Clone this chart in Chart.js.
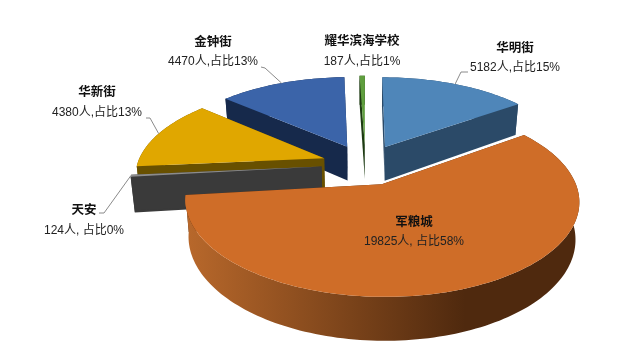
<!doctype html>
<html>

<head>
	<title>3D exploded pie</title>
	<script src="https://cdn.jsdelivr.net/npm/chart.js@4/dist/chart.umd.min.js"></script>
	<style>
		html, body { margin: 0; padding: 0; background: #fff; }
		canvas { display: block; }
	</style>
</head>

<body>
	<canvas id="chart" width="640" height="355"></canvas>
	<script>
		var categories = ['华明街', '军粮城', '天安', '华新街', '金钟街', '耀华滨海学校'];
		var people = [5182, 19825, 124, 4380, 4470, 187];
		var valueLabels = ['5182人,占比15%', '19825人, 占比58%', '124人, 占比0%', '4380人,占比13%', '4470人,占比13%', '187人,占比1%'];

		var topColors = ['#4f86b9', '#cf6d28', '#8c8c8c', '#e0a700', '#3b64a9', '#5f9e3e'];
		var wallColors = ['#2b4a68', '#4f290e', '#3a3a3a', '#685000', '#16294b', '#1d3a12'];
		var wallLeftColors = ['#2b4a68', '#b8682b', '#3a3a3a', '#685000', '#16294b', '#1d3a12'];

		// back to front
		var paintOrder = [0, 4, 5, 3, 2, 1];

		// name/value text centres, and where the leader line leaves the text (null = no leader)
		var labelSpots = [
			{ x: 515, nameY: 47, valueY: 68, leader: [468, 72, 461, 72] },
			{ x: 414, nameY: 221, valueY: 242, leader: null },
			{ x: 84, nameY: 209, valueY: 231, leader: [99, 213, 104, 213] },
			{ x: 97, nameY: 91, valueY: 113, leader: [146, 118, 150, 118] },
			{ x: 213, nameY: 41, valueY: 62, leader: [261, 67, 265, 68] },
			{ x: 362, nameY: 40, valueY: 62, leader: null }
		];

		// camera fitted to the picture
		var view = { cx: 365.5, cy: 164.5, radius: 187, tilt: 0.463, persp: 0.166, depth: 35, baseShrink: 0.982, explode: 0.235 };

		function project(x, z, depth) {
			var w = 1 - view.persp * z;
			var s = depth ? view.baseShrink : 1;
			return {
				x: view.cx + view.radius * s * x / w,
				y: view.cy + (view.radius * view.tilt * z + depth) / w
			};
		}

		function rimPoint(mid, angle, depth) {
			var ox = Math.cos(mid) * view.explode;
			var oz = Math.sin(mid) * view.explode;
			return project(ox + Math.cos(angle), oz + Math.sin(angle), depth);
		}

		function apexPoint(mid, depth) {
			return project(Math.cos(mid) * view.explode, Math.sin(mid) * view.explode, depth);
		}

		function tracePoly(ctx, pts) {
			ctx.beginPath();
			pts.forEach(function(p, i) {
				if (i === 0) {
					ctx.moveTo(p.x, p.y);
				} else {
					ctx.lineTo(p.x, p.y);
				}
			});
			ctx.closePath();
		}

		function rimPoints(mid, start, end, depth) {
			var pts = [];
			var n = Math.max(2, Math.ceil((end - start) * 40));
			for (var i = 0; i <= n; i++) {
				pts.push(rimPoint(mid, start + (end - start) * i / n, depth));
			}
			return pts;
		}

		function drawSlice(ctx, arc, i) {
			var start = arc.startAngle;
			var end = arc.endAngle;
			var mid = (start + end) / 2;
			var h = view.depth;

			// cut faces
			ctx.fillStyle = wallColors[i];
			[start, end].forEach(function(a) {
				tracePoly(ctx, [apexPoint(mid, 0), rimPoint(mid, a, 0), rimPoint(mid, a, h), apexPoint(mid, h)]);
				ctx.fill();
			});

			// outer wall
			var rimTop = rimPoints(mid, start, end, 0);
			var rimBase = rimPoints(mid, start, end, h);
			var grad = ctx.createLinearGradient(187, 0, 465, 0);
			grad.addColorStop(0, wallLeftColors[i]);
			grad.addColorStop(1, wallColors[i]);
			ctx.fillStyle = grad;
			tracePoly(ctx, rimTop.concat(rimBase.reverse()));
			ctx.fill();

			// top face
			ctx.fillStyle = topColors[i];
			tracePoly(ctx, [apexPoint(mid, 0)].concat(rimTop));
			ctx.fill();
		}

		function drawLabels(ctx, arcs) {
			ctx.textAlign = 'center';
			ctx.textBaseline = 'middle';
			categories.forEach(function(name, i) {
				var spot = labelSpots[i];
				if (spot.leader) {
					var mid = (arcs[i].startAngle + arcs[i].endAngle) / 2;
					var end = rimPoint(mid, mid, 0);
					ctx.strokeStyle = '#8a8a8a';
					ctx.lineWidth = 1;
					ctx.beginPath();
					ctx.moveTo(spot.leader[0], spot.leader[1]);
					ctx.lineTo(spot.leader[2], spot.leader[3]);
					ctx.lineTo(end.x, end.y);
					ctx.stroke();
				}
				ctx.fillStyle = '#111';
				ctx.font = 'bold 12.5px "Noto Sans CJK SC"';
				ctx.fillText(name, spot.x, spot.nameY);
				ctx.fillStyle = '#222';
				ctx.font = '12px "Liberation Sans", "Noto Sans CJK SC"';
				ctx.fillText(valueLabels[i], spot.x, spot.valueY);
			});
		}

		var pie3d = {
			id: 'pie3d',
			beforeDatasetsDraw: function(chart) {
				var ctx = chart.ctx;
				var arcs = chart.getDatasetMeta(0).data;
				ctx.save();
				paintOrder.forEach(function(i) {
					drawSlice(ctx, arcs[i], i);
				});
				drawLabels(ctx, arcs);
				ctx.restore();
				return false;
			}
		};

		new Chart(document.getElementById('chart'), {
			type: 'pie',
			data: {
				labels: categories,
				datasets: [{
					data: people,
					backgroundColor: topColors
				}]
			},
			options: {
				responsive: false,
				animation: false,
				plugins: {
					legend: { display: false },
					tooltip: { enabled: false }
				}
			},
			plugins: [pie3d]
		});
	</script>
</body>

</html>
